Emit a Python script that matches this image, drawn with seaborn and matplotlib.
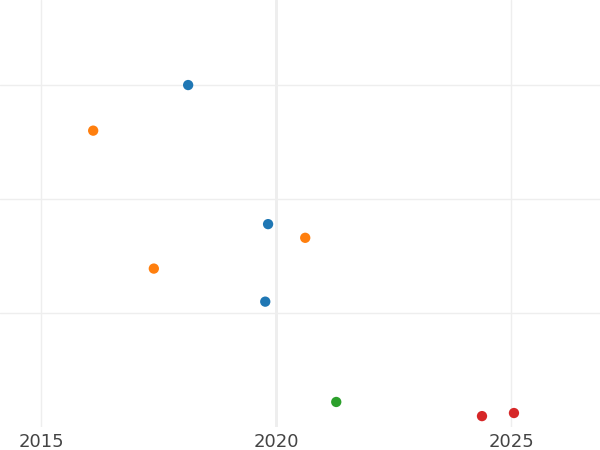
import matplotlib
matplotlib.use("Agg")
import matplotlib.pyplot as plt
import seaborn as sns
import pandas as pd

# --- dati ---
anni = [2018.13, 2019.83, 2019.77, 2016.11, 2017.40, 2020.62, 2021.28, 2024.38, 2025.06]
valori = [30.0, 17.8, 11.0, 26.0, 13.9, 16.6, 2.2, 0.96, 1.23]
gruppi = ["A", "A", "A", "B", "B", "B", "C", "D", "D"]
colori = {"A": "#1f77b4", "B": "#ff7f0e", "C": "#2ca02c", "D": "#d62728"}
x_ticks = [2015, 2020, 2025]
y_ticks = [10, 20, 30]

df = pd.DataFrame({"anno": anni, "valore": valori, "gruppo": gruppi})

sns.set_style("white")
fig = plt.figure(figsize=(6, 4.5), dpi=100)
ax = fig.add_axes([0, 0.051, 1, 0.949])

ax.grid(True, color="#eeeeee", linewidth=1)
ax.set_axisbelow(True)
ax.axvline(2020, color="#ebebeb", linewidth=1.8, zorder=0)

sns.scatterplot(data=df, x="anno", y="valore", hue="gruppo", palette=colori,
                s=55, edgecolor="none", legend=False, ax=ax)

ax.set_xlim(2014.128, 2026.89)
ax.set_ylim(0, 37.46)
ax.set_xticks(x_ticks)
ax.set_yticks(y_ticks)
ax.set_yticklabels([])
ax.tick_params(axis="x", length=0, labelsize=13, labelcolor="#444444", pad=4)
ax.tick_params(axis="y", length=0)
ax.set_xlabel("")
ax.set_ylabel("")
for s in ax.spines.values():
    s.set_visible(False)

fig.savefig("out.png", dpi=100)
